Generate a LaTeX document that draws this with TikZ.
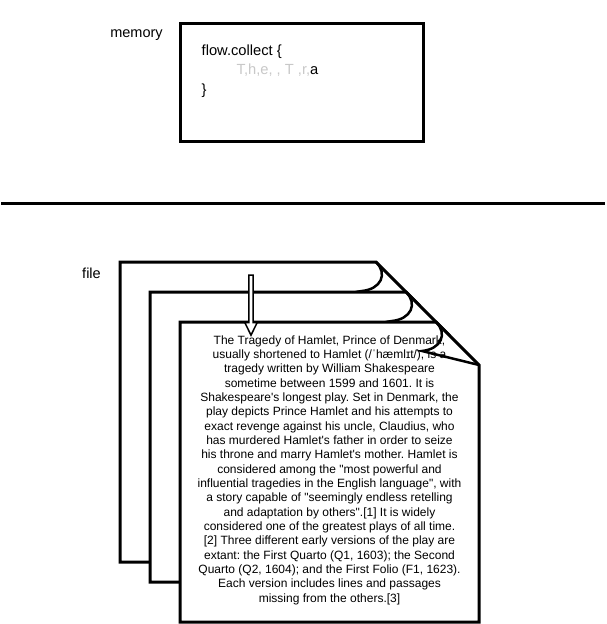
\documentclass[tikz,border=0pt]{standalone}
\usepackage{fontspec}
\setmainfont{Liberation Sans}[Ligatures=TeXOff]
\usepackage{xcolor}
\usepackage{tikz}
\usetikzlibrary{shapes.arrows}
\usetikzlibrary{positioning}
\frenchspacing
\definecolor{faded}{HTML}{C8C8C8}
\tikzset{membox/.style={draw=black, line width=3pt, minimum width=243pt, minimum height=118pt}}
\tikzset{tag/.style={font=\fontsize{14.5}{17}\selectfont}}
\tikzset{code/.style={align=left, font=\fontsize{14.7}{19.5}\selectfont}}
\tikzset{sepline/.style={draw=black, line width=3pt}}
\tikzset{page/.style={draw=black, fill=white, line width=3pt}}
\tikzset{curl/.style={draw=black, line width=2.5pt}}
\tikzset{pagetext/.style={align=center, font=\fontsize{12}{14.33}\selectfont}}
\tikzset{readarrow/.style={single arrow, draw=black, fill=white, line width=1.5pt, minimum height=60pt, inner sep=1.4pt, single arrow head extend=4pt, single arrow tip angle=52, rotate=-90}}

\begin{document}
\begin{tikzpicture}[x=1pt, y=-1pt, inner sep=0pt]
	\useasboundingbox (0,0) rectangle (606,624);
	
	% memory
	\node[tag] (memlabel) at (136.5,35) {memory};
	\node[membox] (mem) at (301.5,82) {};
	\node[code, anchor=north west] (collect) at (201.5,44.5) {flow.collect \{\\\hspace*{35pt}\textcolor{faded}{T,h,e, , T ,r,}a\\\}};
	
	\coordinate (sepL) at (1,203);
	\coordinate (sepR) at (605,203);
	\draw[sepline] (sepL) -- (sepR);
	
	% file
	\node[tag] (filelabel) at (91.5,273) {file};
	\foreach \l/\t/\r/\b in {120/262/419/562, 150/292/449/582, 180/322/479/622} {
		\filldraw[page] (\l,\t) -- (\r-43,\t) -- (\r,\t+43) -- (\r,\b) -- (\l,\b) -- cycle;
		\draw[curl] (\r-43,\t) .. controls (\r-31,\t+12) and (\r-38,\t+27) .. (\r-57,\t+29) -- (\r,\t+43);
	}
	\node[pagetext] (hamlet) at (329.5,470) {The Tragedy of Hamlet, Prince of Denmark,\\
		usually shortened to Hamlet (/ˈhæmlɪt/), is a\\
		tragedy written by William Shakespeare\\
		sometime between 1599 and 1601. It is\\
		Shakespeare's longest play. Set in Denmark, the\\
		play depicts Prince Hamlet and his attempts to\\
		exact revenge against his uncle, Claudius, who\\
		has murdered Hamlet's father in order to seize\\
		his throne and marry Hamlet's mother. Hamlet is\\
		considered among the "most powerful and\\
		influential tragedies in the English language", with\\
		a story capable of "seemingly endless retelling\\
		and adaptation by others".[1] It is widely\\
		considered one of the greatest plays of all time.\\
		{[2]} Three different early versions of the play are\\
		extant: the First Quarto (Q1, 1603); the Second\\
		Quarto (Q2, 1604); and the First Folio (F1, 1623).\\
		Each version includes lines and passages\\
		missing from the others.[3]};
	\node[readarrow] (pointer) at (251,303) {};
\end{tikzpicture}
\end{document}
